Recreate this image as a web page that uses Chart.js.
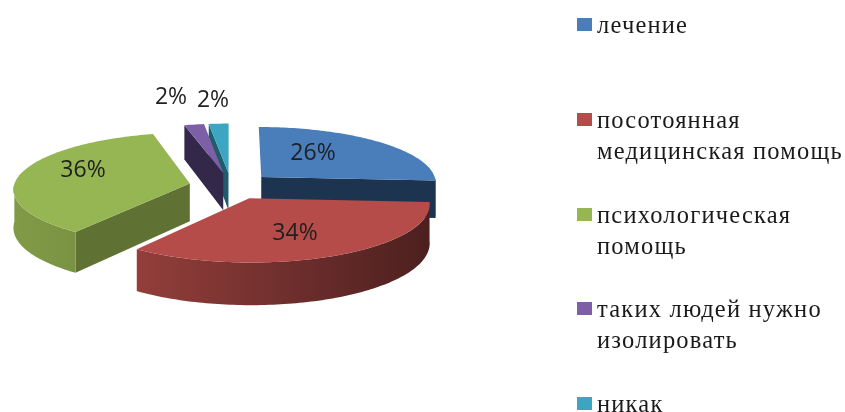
<!DOCTYPE html>
<html lang="ru">
<head>
<meta charset="utf-8">
<title>Диаграмма</title>
<script src="https://cdn.jsdelivr.net/npm/chart.js@4"></script>
<style>
  html, body { margin: 0; padding: 0; background: #fff; }
  #wrap { position: relative; width: 845px; height: 412px; overflow: hidden; filter: blur(0.4px); }
  .item { position: absolute; left: 597px; font: 24.5px/31px "Liberation Serif", serif; color: #1a1a1a; white-space: nowrap; letter-spacing: 1.2px; }
  .box { position: absolute; left: 577px; width: 15px; height: 13px; }
</style>
</head>
<body>
<div id="wrap">
  <canvas id="pie" width="845" height="412"></canvas>
</div>
<script>
const categories = ['лечение', 'посотоянная медицинская помощь', 'психологическая помощь', 'таких людей нужно изолировать', 'никак'];
const legendLines = [['лечение'], ['посотоянная', 'медицинская помощь'], ['психологическая', 'помощь'], ['таких людей нужно', 'изолировать'], ['никак']];
const values = [26, 34, 36, 2, 2];
const topColors = ['#4a7ebb', '#b54c49', '#96b553', '#7c5fa6', '#3ca6c2'];
const wallColors = ['#1c3450', '#5f7234', '#5f7234', '#33284a', '#1f5c6c'];
const labelSpots = [[313, 153], [295, 233], [83, 170], [171, 97], [213, 100]];

// the flat pie from Chart.js gets tilted with this projection
const view = { x: 231, y: 186, rx: 176, ry: 56, persp: 0.09, depth: 38 };

function project(arc, px, py) {
  const u = (px - arc.x) / arc.outerRadius;
  const v = (py - arc.y) / arc.outerRadius;
  const s = 1 / (1 - view.persp * v);
  return { x: view.x + view.rx * u * s, y: view.y + view.ry * v * s, d: view.depth * s };
}

function shade(hex, f) {
  const n = parseInt(hex.slice(1), 16);
  return `rgb(${Math.round((n >> 16) * f)},${Math.round(((n >> 8) & 255) * f)},${Math.round((n & 255) * f)})`;
}

function fillPoly(ctx, pts, color) {
  ctx.beginPath();
  pts.forEach((p, i) => (i ? ctx.lineTo(p.x, p.y) : ctx.moveTo(p.x, p.y)));
  ctx.closePath();
  ctx.fillStyle = color;
  ctx.fill();
}

// curved wall is darker towards the right
function wallShade(a) {
  return Math.min(0.85, 0.41 + 0.4 * a / (Math.PI * 0.7));
}

function drawSlice(ctx, arc, i) {
  const { startAngle, endAngle, outerRadius: R } = arc;
  const mid = (startAngle + endAngle) / 2;
  const ox = arc.x + Math.cos(mid) * arc.options.offset;
  const oy = arc.y + Math.sin(mid) * arc.options.offset;
  const apex = project(arc, ox, oy);
  const rim = [];
  const steps = Math.max(4, Math.ceil((endAngle - startAngle) / 0.02));
  for (let k = 0; k <= steps; k++) {
    const a = startAngle + (endAngle - startAngle) * k / steps;
    const p = project(arc, ox + Math.cos(a) * R, oy + Math.sin(a) * R);
    p.a = a;
    rim.push(p);
  }
  const down = p => ({ x: p.x, y: p.y + p.d });

  // radial walls, only the ones facing us
  const first = rim[0], last = rim[rim.length - 1];
  if (-Math.cos(startAngle) > 0) fillPoly(ctx, [apex, first, down(first), down(apex)], wallColors[i]);
  if (Math.cos(endAngle) > 0) fillPoly(ctx, [apex, last, down(last), down(apex)], wallColors[i]);

  const front = rim.filter(p => Math.sin(p.a) > 0);
  if (front.length > 1) {
    const a0 = front[0], a1 = front[front.length - 1];
    const grad = ctx.createLinearGradient(a0.x, 0, a1.x, 0);
    grad.addColorStop(0, shade(topColors[i], wallShade(a0.a)));
    grad.addColorStop(1, shade(topColors[i], wallShade(a1.a)));
    fillPoly(ctx, [...front, ...front.slice().reverse().map(down)], grad);
  }

  fillPoly(ctx, [apex, ...rim], topColors[i]);
}

const tiltPlugin = {
  id: 'tilt',
  beforeDatasetDraw(chart, args) {
    const ctx = chart.ctx;
    const arcs = chart.getDatasetMeta(args.index).data;
    const order = arcs.map((a, i) => i).sort((a, b) =>
      Math.sin((arcs[a].startAngle + arcs[a].endAngle) / 2) - Math.sin((arcs[b].startAngle + arcs[b].endAngle) / 2));
    order.forEach(i => drawSlice(ctx, arcs[i], i));

    ctx.fillStyle = '#1f1f1f';
    ctx.font = '23px "Open Sans", sans-serif';
    ctx.textAlign = 'center';
    ctx.textBaseline = 'middle';
    values.forEach((val, i) => ctx.fillText(val + '%', labelSpots[i][0], labelSpots[i][1]));
    return false;
  }
};

new Chart(document.getElementById('pie'), {
  type: 'pie',
  data: {
    labels: categories,
    datasets: [{ data: values, backgroundColor: topColors, offset: 44, borderWidth: 0 }]
  },
  options: {
    responsive: false,
    animation: false,
    plugins: { legend: { display: false }, tooltip: { enabled: false } }
  },
  plugins: [tiltPlugin]
});

// legend sits in its own column on the right
const wrap = document.getElementById('wrap');
legendLines.forEach((lines, i) => {
  const top = 18 + i * 94.8;
  const box = document.createElement('div');
  box.className = 'box';
  box.style.top = top + 'px';
  box.style.background = topColors[i];
  wrap.appendChild(box);
  lines.forEach((line, j) => {
    const el = document.createElement('div');
    el.className = 'item';
    el.style.top = (top - 9 + j * 31) + 'px';
    el.textContent = line;
    wrap.appendChild(el);
  });
});
</script>
</body>
</html>
